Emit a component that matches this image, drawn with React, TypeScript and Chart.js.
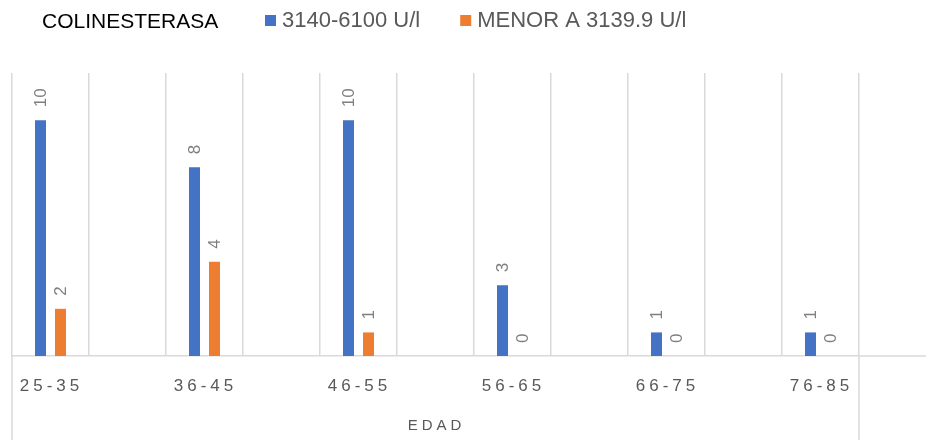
import React, { useEffect, useRef } from "react";
import { Chart, registerables } from "chart.js";

Chart.register(...registerables);

const TITLE = "COLINESTERASA";
const AXIS_TITLE = "EDAD";
const AGE_GROUPS = ["25-35", "36-45", "46-55", "56-65", "66-75", "76-85"];
const SERIES_NORMAL_LABEL = "3140-6100 U/l";
const SERIES_LOW_LABEL = "MENOR A 3139.9 U/l";
const SERIES_NORMAL = [10, 8, 10, 3, 1, 1];
const SERIES_LOW = [2, 4, 1, 0, 0, 0];
const BLUE = "#4472c4";
const ORANGE = "#ed7d31";

// Excel layout: every age group is followed by an empty slot
function spaced<T>(arr: T[], filler: T): T[] {
  const out: T[] = [];
  arr.forEach((v, i) => {
    out.push(v);
    if (i < arr.length - 1) out.push(filler);
  });
  return out;
}

const FONT = '"Liberation Sans", Arial, sans-serif';

const decoPlugin = {
  id: "deco",
  afterDatasetsDraw(chart: any) {
    const { ctx } = chart;
    chart.data.datasets.forEach((ds: any, di: number) => {
      const meta = chart.getDatasetMeta(di);
      meta.data.forEach((el: any, i: number) => {
        const v = ds.data[i];
        if (v === null || v === undefined) return;
        ctx.save();
        ctx.translate(el.x, el.y - 13);
        ctx.rotate(-Math.PI / 2);
        ctx.font = "17px " + FONT;
        ctx.fillStyle = "#7f7f7f";
        ctx.textAlign = "left";
        ctx.textBaseline = "middle";
        ctx.fillText(String(v), 0, 1);
        ctx.restore();
      });
    });
  },
  afterDraw(chart: any) {
    const { ctx, chartArea, width, height } = chart;
    const x = chart.scales.x;
    ctx.save();
    // extended axis lines
    ctx.strokeStyle = "#d9d9d9";
    ctx.lineWidth = 1.5;
    ctx.beginPath();
    ctx.moveTo(chartArea.right, chartArea.bottom);
    ctx.lineTo(width, chartArea.bottom);
    [chartArea.left, chartArea.right].forEach((px: number) => {
      ctx.moveTo(px, chartArea.bottom);
      ctx.lineTo(px, height);
    });
    ctx.stroke();

    // category labels
    ctx.fillStyle = "#595959";
    ctx.font = "17px " + FONT;
    (ctx as any).letterSpacing = "4px";
    ctx.textAlign = "center";
    ctx.textBaseline = "middle";
    chart.data.labels.forEach((lab: string, i: number) => {
      if (!lab) return;
      ctx.fillText(lab, x.getPixelForValue(i) + 1, chartArea.bottom + 30);
    });
    // axis title
    ctx.font = "15px " + FONT;
    (ctx as any).letterSpacing = "4px";
    ctx.fillText(AXIS_TITLE, (chartArea.left + chartArea.right) / 2 + 1, chartArea.bottom + 70);
    (ctx as any).letterSpacing = "0px";

    // title
    ctx.textAlign = "left";
    ctx.fillStyle = "#000000";
    ctx.font = "21px " + FONT;
    ctx.fillText(TITLE, 42, 22);

    // legend
    let lx = 265;
    ctx.font = "22px " + FONT;
    chart.data.datasets.forEach((ds: any) => {
      ctx.fillStyle = ds.backgroundColor;
      ctx.fillRect(lx, 15, 11, 11);
      ctx.fillStyle = "#595959";
      ctx.fillText(ds.label, lx + 17, 21);
      lx += 17 + ctx.measureText(ds.label).width + 40;
    });
    ctx.restore();
  },
};

export default function App() {
  const ref = useRef<HTMLCanvasElement | null>(null);
  useEffect(() => {
    if (!ref.current) return;
    const chart = new Chart(ref.current, {
      type: "bar",
      data: {
        labels: spaced(AGE_GROUPS, ""),
        datasets: [
          {
            label: SERIES_NORMAL_LABEL,
            data: spaced<number | null>(SERIES_NORMAL, null),
            backgroundColor: BLUE,
            categoryPercentage: 40 / 77,
            barPercentage: 0.55,
          },
          {
            label: SERIES_LOW_LABEL,
            data: spaced<number | null>(SERIES_LOW, null),
            backgroundColor: ORANGE,
            categoryPercentage: 40 / 77,
            barPercentage: 0.55,
          },
        ],
      },
      options: {
        animation: false,
        responsive: true,
        maintainAspectRatio: false,
        layout: { padding: { left: 12, right: 67, top: 73, bottom: 84 } },
        plugins: {
          legend: { display: false },
          title: { display: false },
          tooltip: { enabled: false },
        },
        scales: {
          x: {
            grid: { color: "#d9d9d9", offset: true, drawTicks: false, lineWidth: 1.5 },
            border: { display: true, color: "#d9d9d9", width: 1.5 },
            ticks: { display: false },
          },
          y: { display: false, min: 0, max: 12 },
        },
      },
      plugins: [decoPlugin],
    });
    return () => chart.destroy();
  }, []);
  return (
    <div style={{ position: "fixed", left: 0, top: 0, width: 926, height: 440, background: "#fff" }}>
      <canvas ref={ref} />
    </div>
  );
}
